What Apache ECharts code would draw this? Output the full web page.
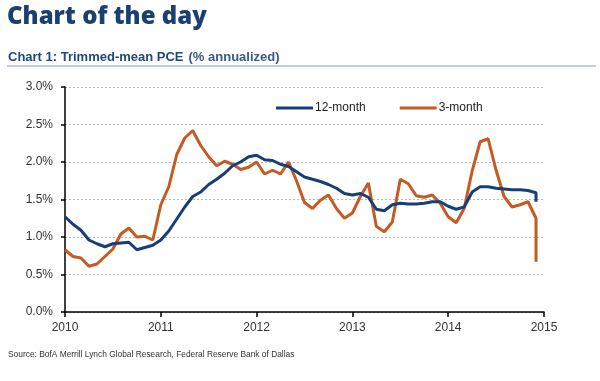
<!DOCTYPE html>
<html>
<head>
<meta charset="utf-8">
<script src="https://cdn.jsdelivr.net/npm/echarts@6/dist/echarts.min.js"></script>
<style>
html,body{margin:0;padding:0;background:#fff;}
#chart{width:600px;height:381px;}
</style>
</head>
<body>
<div id="chart"></div>
<script>
// Monthly data, Jan 2010 .. Dec 2014 (final observation repeated month = latest revision)
const startYear = 2010;
const monthIdx = Array.from({length: 60}, (_, i) => i).concat([59]);
const twelveMonth = [
  1.27, 1.17, 1.09, 0.96, 0.91, 0.87, 0.91, 0.92, 0.93, 0.83, 0.86, 0.89,
  0.96, 1.08, 1.24, 1.40, 1.54, 1.60, 1.70, 1.77, 1.85, 1.95, 2.00, 2.07,
  2.09, 2.03, 2.02, 1.97, 1.94, 1.87, 1.80, 1.77, 1.74, 1.70, 1.65, 1.58,
  1.56, 1.58, 1.53, 1.37, 1.35, 1.43, 1.45, 1.44, 1.44, 1.45, 1.47, 1.47,
  1.41, 1.37, 1.40, 1.60, 1.67, 1.67, 1.65, 1.64, 1.63, 1.63, 1.62, 1.59,
  1.47
];
const threeMonth = [
  0.83, 0.74, 0.72, 0.61, 0.64, 0.74, 0.84, 1.04, 1.12, 1.00, 1.01, 0.96,
  1.43, 1.67, 2.10, 2.32, 2.42, 2.22, 2.07, 1.95, 2.01, 1.97, 1.90, 1.93,
  2.00, 1.84, 1.89, 1.84, 2.00, 1.75, 1.46, 1.38, 1.49, 1.56, 1.38, 1.25,
  1.32, 1.54, 1.72, 1.14, 1.07, 1.20, 1.77, 1.71, 1.55, 1.53, 1.56, 1.45,
  1.27, 1.19, 1.38, 1.88, 2.27, 2.31, 1.89, 1.54, 1.40, 1.43, 1.47, 1.25,
  0.67
];
const seriesNames = ['12-month', '3-month'];
const yearTicks = [2010, 2011, 2012, 2013, 2014, 2015];

const toPoints = vals => vals.map((v, i) => [startYear + monthIdx[i] / 12, v]);

const chart = echarts.init(document.getElementById('chart'), null, {renderer: 'canvas'});
const navy = '#1b3f73';
const narrow = '"Liberation Sans", Arial, sans-serif';
chart.setOption({
  backgroundColor: '#fff',
  animation: false,
  title: [{
    text: 'Chart of the day',
    left: 7, top: 5, padding: 0,
    textStyle: {fontFamily: '"Open Sans", sans-serif', fontWeight: 800, fontSize: 24, color: navy}
  }, {
    text: '{a|Chart 1: Trimmed-mean PCE} {b|(% annualized)}',
    left: 8, top: 48, padding: 0,
    textStyle: {
      rich: {
        a: {fontFamily: narrow, fontSize: 13, color: '#1f4880', fontWeight: 'bold'},
        b: {fontFamily: narrow, fontSize: 13, color: '#3a5a8a'}
      }
    }
  }, {
    text: 'Source: BofA Merrill Lynch Global Research, Federal Reserve Bank of Dallas',
    left: 8, top: 351, padding: 0,
    textStyle: {fontFamily: narrow, fontSize: 8.4, fontWeight: 'normal', color: '#333'}
  }],
  graphic: [{
    type: 'line',
    shape: {x1: 7, y1: 66, x2: 596, y2: 66},
    style: {stroke: '#8a9bb5', lineWidth: 1}
  }],
  legend: {
    data: seriesNames,
    left: 271, top: 97,
    itemWidth: 37, itemHeight: 3, itemGap: 34,
    icon: 'rect',
    textStyle: {fontFamily: '"Liberation Sans", Arial, sans-serif', fontSize: 12, color: '#222', padding: [0, 0, 0, -3]}
  },
  grid: {left: 65, right: 56, top: 87, bottom: 69, containLabel: false},
  xAxis: {
    type: 'value', min: 2010, max: 2015, interval: 1,
    axisLine: {show: true, lineStyle: {color: '#000', width: 1.5}},
    axisTick: {show: true, length: 5, lineStyle: {color: '#000', width: 1.5}},
    axisLabel: {
      margin: 10, fontFamily: '"Liberation Sans", Arial, sans-serif', fontSize: 12, color: '#333',
      formatter: v => yearTicks.includes(v) ? String(v) : ''
    },
    splitLine: {show: false}
  },
  yAxis: {
    type: 'value', min: 0, max: 3, interval: 0.5,
    axisLine: {show: true, lineStyle: {color: '#000', width: 1.5}},
    axisTick: {show: true, length: 4, lineStyle: {color: '#000', width: 1.5}},
    axisLabel: {
      margin: 12, fontFamily: '"Liberation Sans", Arial, sans-serif', fontSize: 12, color: '#333',
      formatter: v => v.toFixed(1) + '%'
    },
    splitLine: {show: true, lineStyle: {color: '#b8b8b8', type: [2, 2], width: 1}}
  },
  series: [{
    name: seriesNames[0], type: 'line', data: toPoints(twelveMonth),
    showSymbol: false, symbol: 'none',
    lineStyle: {color: '#163f7a', width: 3},
    itemStyle: {color: '#163f7a'},
    z: 3
  }, {
    name: seriesNames[1], type: 'line', data: toPoints(threeMonth),
    showSymbol: false, symbol: 'none',
    lineStyle: {color: '#c55a22', width: 3},
    itemStyle: {color: '#c55a22'},
    z: 2
  }]
});
</script>
</body>
</html>
